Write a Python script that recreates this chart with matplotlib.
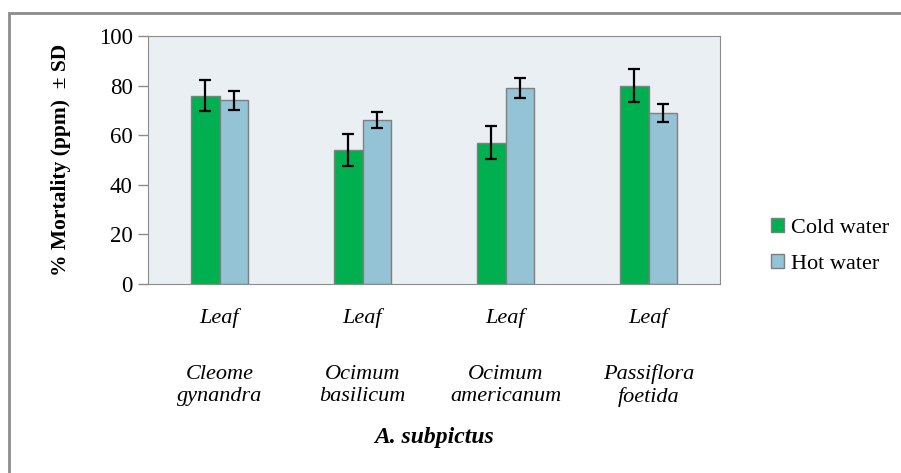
import matplotlib
matplotlib.use("Agg")
import matplotlib.pyplot as plt
import numpy as np
from matplotlib.patches import Rectangle

# data
plants = ["Cleome\ngynandra", "Ocimum\nbasilicum", "Ocimum\namericanum", "Passiflora\nfoetida"]
part = ["Leaf", "Leaf", "Leaf", "Leaf"]
cold = [76, 54, 57, 80]
cold_sd = [6.4, 6.6, 6.6, 6.6]
hot = [74, 66, 79, 69]
hot_sd = [3.8, 3.2, 4.0, 3.5]

plt.rcParams['font.family'] = ['Liberation Serif', 'DejaVu Serif']

fig = plt.figure(figsize=(9.01, 4.73), dpi=100)
ax = fig.add_axes([148 / 901, 1 - 284 / 473, 572 / 901, 248 / 473])

# outer frame of the chart area
fig.patches.append(Rectangle((9 / 901, -0.1), 1.2, 1 - 13 / 473 + 0.1,
                             transform=fig.transFigure, fill=False,
                             edgecolor='#8c8c8c', linewidth=2))

x = np.arange(len(plants)) + 0.5
w = 0.2
err_kw = dict(ecolor='black', elinewidth=1.6, capsize=4.5, capthick=1.6)
ax.bar(x - w / 2, cold, w, yerr=cold_sd, color='#00B050', edgecolor='#7f7f7f',
       linewidth=1, label='Cold water', error_kw=err_kw, zorder=2)
ax.bar(x + w / 2, hot, w, yerr=hot_sd, color='#93C3D5', edgecolor='#7f7f7f',
       linewidth=1, label='Hot water', error_kw=err_kw, zorder=2)

ax.set_facecolor('#E9EFF3')
ax.set_xlim(0, 4)
ax.set_ylim(0, 100)
ax.set_yticks(range(0, 101, 20))
ax.tick_params(axis='y', labelsize=16.5, length=7, color='#8c8c8c', width=1, pad=4)
ax.set_xticks([])
for s in ax.spines.values():
    s.set_color('#8c8c8c')

ax.set_ylabel('% Mortality (ppm)  ± SD', fontsize=15.5, fontweight='bold', labelpad=20)

tr = ax.get_xaxis_transform()
for xi, p, name in zip(x, part, plants):
    ax.text(xi, -0.137, p, transform=tr, ha='center', va='center',
            fontsize=16, style='italic')
    ax.text(xi, -0.41, name, transform=tr, ha='center', va='center',
            fontsize=16, style='italic', linespacing=1.2)
ax.text(2, -0.62, 'A. subpictus', transform=tr, ha='center', va='center',
        fontsize=17, style='italic', fontweight='bold')

ax.legend(loc='center left', bbox_to_anchor=(751 / 901, 1 - 246 / 473),
          bbox_transform=fig.transFigure, frameon=False, fontsize=16,
          handlelength=0.6, handleheight=0.6, handletextpad=0.3,
          labelspacing=0.75)

fig.savefig('out.png', dpi=100)
